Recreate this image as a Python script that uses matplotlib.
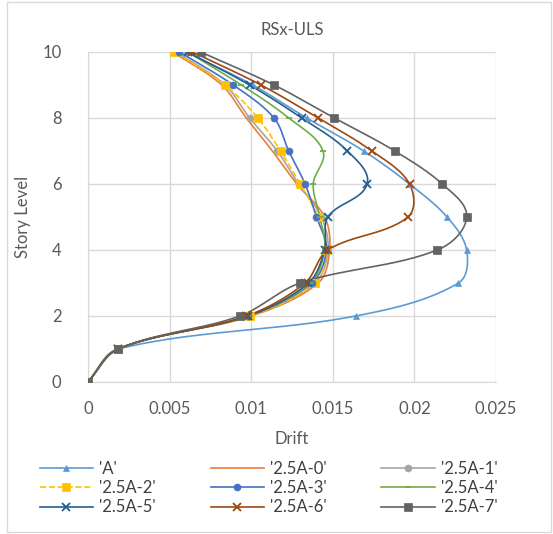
import matplotlib.pyplot as plt
import numpy as np
from matplotlib.lines import Line2D
from matplotlib.patches import Rectangle

plt.rcParams['font.family'] = ['Lato', 'DejaVu Sans']

stories = [0, 1, 2, 3, 4, 5, 6, 7, 8, 9, 10]
names = ["'A'", "'2.5A-0'", "'2.5A-1'", "'2.5A-2'", "'2.5A-3'",
         "'2.5A-4'", "'2.5A-5'", "'2.5A-6'", "'2.5A-7'"]

drift_A = [0, 0.00184, 0.0164, 0.0227, 0.0232, 0.0220, 0.0197, 0.0169, 0.0134, 0.0101, 0.0060]
drift_0 = [0, 0.00184, 0.0100, 0.0141, 0.0148, 0.0145, 0.0128, 0.0113, 0.0097, 0.0082, 0.0052]
drift_1 = [0, 0.00184, 0.0099, 0.0139, 0.0147, 0.0143, 0.0129, 0.0116, 0.0099, 0.0084, 0.0054]
drift_2 = [0, 0.00184, 0.0099, 0.0139, 0.0146, 0.0141, 0.0130, 0.0118, 0.0104, 0.0084, 0.0053]
drift_3 = [0, 0.00184, 0.0098, 0.0137, 0.0146, 0.0140, 0.0133, 0.0123, 0.0114, 0.0089, 0.0056]
drift_4 = [0, 0.00184, 0.0098, 0.0136, 0.0145, 0.0142, 0.0138, 0.0144, 0.0123, 0.0094, 0.0061]
drift_5 = [0, 0.00184, 0.0098, 0.0135, 0.0145, 0.0147, 0.0171, 0.0159, 0.0131, 0.0099, 0.0061]
drift_6 = [0, 0.00184, 0.0097, 0.0133, 0.0147, 0.0196, 0.0197, 0.0174, 0.0141, 0.0106, 0.0064]
drift_7 = [0, 0.00184, 0.0093, 0.0130, 0.0214, 0.0232, 0.0217, 0.0188, 0.0151, 0.0114, 0.0069]

series = [drift_A, drift_0, drift_1, drift_2, drift_3, drift_4, drift_5, drift_6, drift_7]
colors = ['#5B9BD5', '#ED7D31', '#A5A5A5', '#FFC000', '#4472C4',
          '#70AD47', '#255E91', '#9E480E', '#636363']
markers = ['^', 'None', 'o', 's', 'o', '_', 'x', 'x', 's']
msizes = [5, 0, 5, 6, 5, 5, 6, 6, 6]
styles = ['-', '-', '-', '--', '-', '-', '-', '-', '-']

XMAX = 0.025
YMAX = 10


def smooth(xs, ys, n=30):
    # bezier smoothing, tangent length tied to each segment length (no overshoot)
    p = np.column_stack([np.asarray(xs) / XMAX * 408, np.asarray(ys) * 33.0])
    k = len(p)
    tang = []
    for i in range(k):
        a = p[max(i - 1, 0)]
        b = p[min(i + 1, k - 1)]
        d = b - a
        tang.append(d / (np.linalg.norm(d) + 1e-9))
    out = []
    t = np.linspace(0, 1, n)[:, None]
    for i in range(k - 1):
        p1, p2 = p[i], p[i + 1]
        L = np.linalg.norm(p2 - p1)
        c1 = p1 + tang[i] * L / 3
        c2 = p2 - tang[i + 1] * L / 3
        seg = ((1 - t) ** 3) * p1 + 3 * ((1 - t) ** 2) * t * c1 + 3 * (1 - t) * t ** 2 * c2 + t ** 3 * p2
        out.append(seg if i == 0 else seg[1:])
    out = np.vstack(out)
    return out[:, 0] / 408 * XMAX, out[:, 1] / 33.0


fig = plt.figure(figsize=(5.53, 5.34), dpi=100)
ax = fig.add_axes([88 / 553, 1 - 382 / 534, 408 / 553, 330 / 534])

handles = []
for vals, c, m, ms, ls, name in zip(series, colors, markers, msizes, styles, names):
    sx, sy = smooth(vals, stories)
    ax.plot(sx, sy, color=c, lw=1.2, ls=ls, zorder=2)
    if m != 'None':
        ax.plot(vals, stories, ls='None', marker=m, color=c, ms=ms,
                mew=1.3 if m in ('x', '_') else 0.5, zorder=3)
    handles.append(Line2D([], [], color=c, lw=1.2, ls=ls, marker=m, ms=ms,
                          mew=1.3 if m in ('x', '_') else 0.5, label=name))

ax.set_xlim(0, XMAX)
ax.set_ylim(0, YMAX)
ax.set_xticks([0, 0.005, 0.01, 0.015, 0.02, 0.025])
ax.set_xticklabels(['0', '0.005', '0.01', '0.015', '0.02', '0.025'])
ax.set_yticks([0, 2, 4, 6, 8, 10])
ax.grid(True, color='#D9D9D9', lw=1.0)
ax.set_axisbelow(True)
for s in ['top', 'right']:
    ax.spines[s].set_visible(False)
for s in ['left', 'bottom']:
    ax.spines[s].set_color('#D9D9D9')
ax.tick_params(length=0, labelsize=12, colors='#595959')
ax.tick_params(axis='x', pad=14)
ax.tick_params(axis='y', pad=19)
ax.set_xlabel('Drift', fontsize=12, color='#595959', labelpad=10)
ax.set_ylabel('Story Level', fontsize=12, color='#595959', labelpad=8)
ax.set_title('RSx-ULS', fontsize=12, color='#595959', pad=12)

order = [0, 3, 6, 1, 4, 7, 2, 5, 8]
fig.legend([handles[i] for i in order], [names[i] for i in order], ncol=3,
           loc='center', bbox_to_anchor=(0.4855, 1 - 488 / 534), frameon=False,
           fontsize=12, labelcolor='#404040', handlelength=3.2, columnspacing=3.3,
           handletextpad=0.35, labelspacing=0.2)

fig.patches.append(Rectangle((7 / 553, 2 / 534), 544 / 553, 530 / 534,
                             transform=fig.transFigure, fill=False,
                             edgecolor='#D9D9D9', lw=1))

fig.savefig('out.png', dpi=100)
